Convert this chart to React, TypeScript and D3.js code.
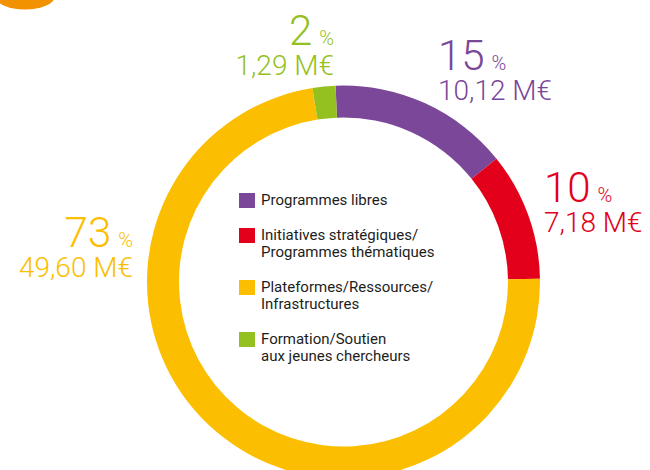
import React from 'react';
import * as d3 from 'd3';

// budget split, in millions of euros
const categories = ['libres', 'strategiques', 'plateformes', 'formation'];
const amounts = [10.12, 7.18, 49.6, 1.29];
const percentLabels = ['15', '10', '73', '2'];
const amountLabels = ['10,12 M€', '7,18 M€', '49,60 M€', '1,29 M€'];
const legendLines = [
  ['Programmes libres'],
  ['Initiatives stratégiques/', 'Programmes thématiques'],
  ['Plateformes/Ressources/', 'Infrastructures'],
  ['Formation/Soutien', 'aux jeunes chercheurs'],
];
const colors = ['#7b4799', '#e2001a', '#fbbe00', '#94c11f'];

// where each value label sits (x, baseline of the percent line, anchor)
const labelLayout = [
  { x: 438, y: 70, anchor: 'start' },
  { x: 544, y: 202, anchor: 'start' },
  { x: 133, y: 247, anchor: 'end' },
  { x: 334, y: 45, anchor: 'end' },
];

const width = 650;
const height = 470;
const cx = 343.5;
const cy = 282;
const outerR = 196.5;
const innerR = 164.5;
const font = 'Roboto, "Noto Sans", sans-serif';

export default function App() {
  const start = (-2.3 * Math.PI) / 180;
  const pie = d3
    .pie<number>()
    .sort(null)
    .value((d) => d)
    .startAngle(start)
    .endAngle(start + 2 * Math.PI);
  const arcs = pie(amounts);
  const arc = d3.arc<d3.PieArcDatum<number>>().innerRadius(innerR).outerRadius(outerR);

  // legend rows: one 17px line per text line, plus 18px gap
  let ly = 193;
  const legendRows = legendLines.map((lines, i) => {
    const row = { y: ly, lines, color: colors[i] };
    ly += lines.length * 17 + 18;
    return row;
  });

  return (
    <div style={{ position: 'fixed', left: 0, top: 0 }}>
      <svg width={width} height={height} style={{ display: 'block', background: '#fff' }}>
        <ellipse cx={25} cy={-4} rx={30} ry={13.5} fill="#f39200" />
        <g transform={`translate(${cx},${cy})`}>
          {arcs.map((a, i) => (
            <path key={categories[i]} d={arc(a) || ''} fill={colors[i]} />
          ))}
        </g>
        {labelLayout.map((l, i) => (
          <g key={'lab' + i} fill={colors[i]} fontFamily={font} fontWeight={300} textAnchor={l.anchor}>
            <text x={l.x} y={l.y}>
              <tspan fontSize={42}>{percentLabels[i]}</tspan>
              <tspan fontSize={20} dx={7}>%</tspan>
            </text>
            <text x={l.x} y={l.y + 30} fontSize={28}>
              {amountLabels[i]}
            </text>
          </g>
        ))}
        {legendRows.map((r, i) => (
          <g key={'leg' + i} fontFamily={font} fontSize={15} fill="#1d1d1b">
            <rect x={239} y={r.y} width={16} height={15} fill={r.color} />
            {r.lines.map((t, j) => (
              <text key={j} x={261} y={r.y + 12 + j * 17}>
                {t}
              </text>
            ))}
          </g>
        ))}
      </svg>
    </div>
  );
}
